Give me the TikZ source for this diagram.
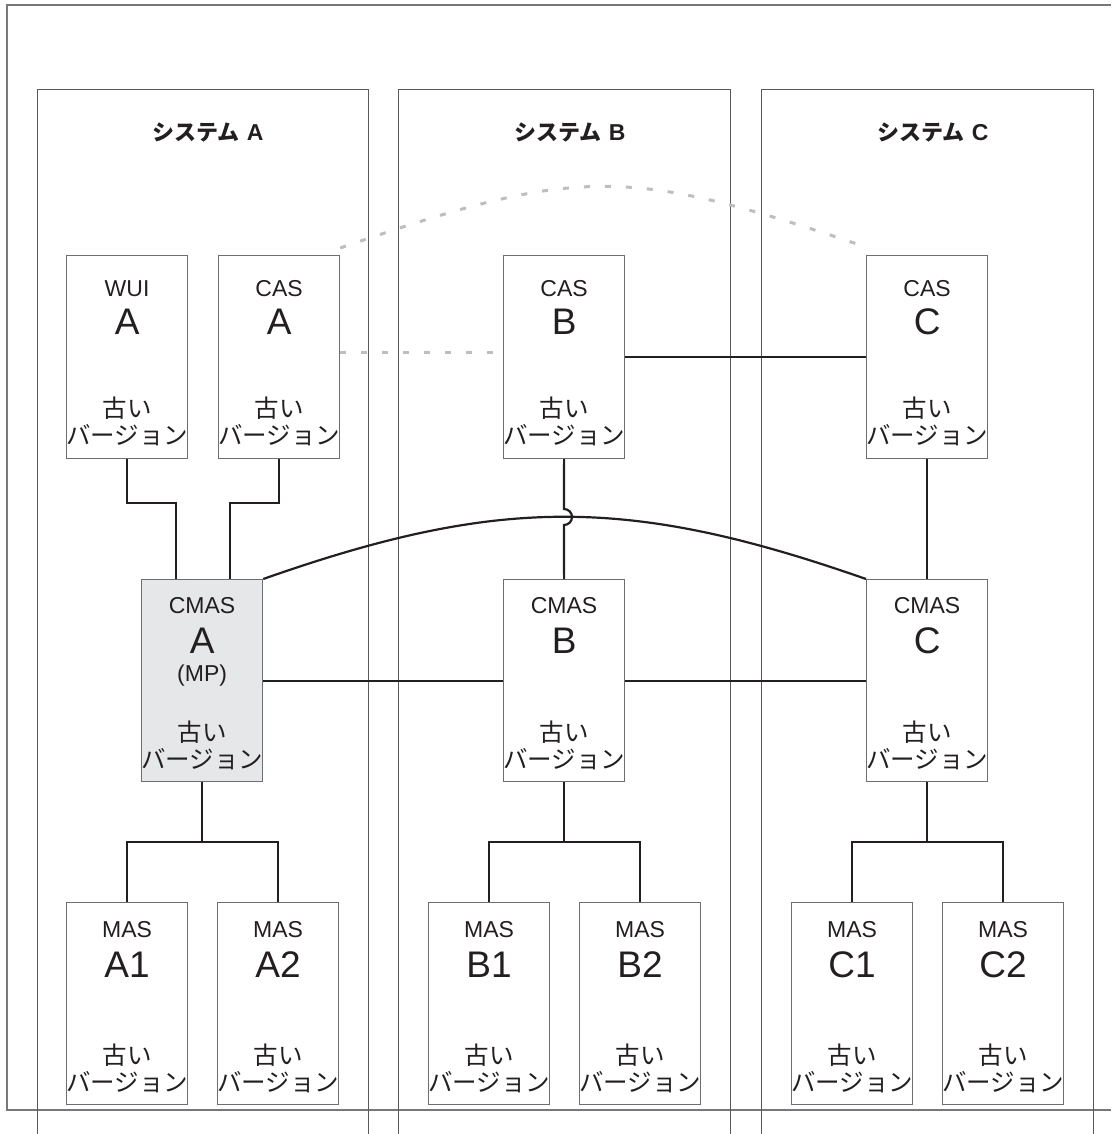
\documentclass[tikz,border=0pt]{standalone}
\usepackage{fontspec}
\setmainfont{Liberation Sans}
\newfontfamily\jp{Noto Sans CJK JP}
\usetikzlibrary{calc}
\definecolor{ink}{HTML}{231F20}
\definecolor{boxline}{HTML}{6D6E71}
\definecolor{sysline}{HTML}{58595B}
\definecolor{frameline}{HTML}{77787B}
\definecolor{dashgray}{HTML}{BCBEC0}
\definecolor{mpfill}{HTML}{E6E7E8}
\tikzset{
  compbox/.style={draw=boxline, line width=1.2pt, fill=white, minimum width=121pt, minimum height=203pt, inner sep=0pt, anchor=north west},
  masbox/.style={compbox, minimum height=202pt},
  smalltxt/.style={text=ink, inner sep=0pt, font=\fontsize{23}{23}\selectfont},
  bigtxt/.style={text=ink, inner sep=0pt, font=\fontsize{37}{37}\selectfont},
  jptxt/.style={text=ink, inner sep=0pt, font=\jp\fontsize{24.5}{24.5}\selectfont},
  titletxt/.style={text=ink, inner sep=0pt},
  conn/.style={draw=ink, line width=2.2pt},
  sysbox/.style={draw=sysline, line width=1pt},
  oldlink/.style={draw=dashgray, line width=3pt, dash pattern=on 6pt off 15pt}
}
% #1 name, #2 x, #3 y, #4 small, #5 big, #6 small dy, #7 big dy, #8 box style
\newcommand\comp[8]{%
  \node[#8] (#1) at (#2,#3) {};
  \node[smalltxt] (#1-s) at ($(#1.north)+(0,#6)$) {#4};
  \node[bigtxt] (#1-b) at ($(#1.north)+(0,#7)$) {#5};
  \node[jptxt] (#1-o) at ($(#1.north)+(0,153)$) {古い};
  \node[jptxt] (#1-v) at ($(#1.north)+(0,180)$) {バージョン};
}
\newcommand\systitle[3]{%
  \node[titletxt] (#1) at (#2,132) {{\jp\bfseries\fontsize{22}{22}\selectfont システム}\hspace{7pt}{\fontsize{23}{23}\selectfont\bfseries #3}};
}
\begin{document}
\begin{tikzpicture}[x=1pt,y=-1pt]
\useasboundingbox (0,0) rectangle (1111,1134);
% outer frame
\draw[draw=frameline, line width=1.4pt] (1111,5) -- (7,5) -- (7,1110) -- (1111,1110);
% system boxes
\draw[sysbox] (37,1134) -- (37,90) -- (368,90) -- (368,1134);
\draw[sysbox] (398,1134) -- (398,90) -- (730,90) -- (730,1134);
\draw[sysbox] (761,1134) -- (761,90) -- (1093,90) -- (1093,1134);
\systitle{titleA}{208}{A}
\systitle{titleB}{570}{B}
\systitle{titleC}{933}{C}
% components
\comp{wuiA}{66}{255}{WUI}{A}{34}{67}{compbox}
\comp{casA}{218}{255}{CAS}{A}{34}{67}{compbox}
\comp{casB}{503}{255}{CAS}{B}{34}{67}{compbox}
\comp{casC}{866}{255}{CAS}{C}{34}{67}{compbox}
\comp{cmasA}{141}{579}{CMAS}{A}{27}{62}{masbox, fill=mpfill}
\node[smalltxt] (cmasA-mp) at ($(cmasA.north)+(0,97)$) {(MP)};
\comp{cmasB}{503}{579}{CMAS}{B}{27}{62}{masbox}
\comp{cmasC}{866}{579}{CMAS}{C}{27}{62}{masbox}
\comp{masA1}{66}{902}{MAS}{A1}{28}{63}{masbox}
\comp{masA2}{217}{902}{MAS}{A2}{28}{63}{masbox}
\comp{masB1}{428}{902}{MAS}{B1}{28}{63}{masbox}
\comp{masB2}{579}{902}{MAS}{B2}{28}{63}{masbox}
\comp{masC1}{791}{902}{MAS}{C1}{28}{63}{masbox}
\comp{masC2}{942}{902}{MAS}{C2}{28}{63}{masbox}
% old (dashed) links
\draw[oldlink] ([yshift=5pt]casA.east) -- ([yshift=5pt]casB.west);
\draw[oldlink] ([yshift=7pt]casA.north east) .. controls (579,166) and (626,166) .. ([yshift=8pt]casC.north west);
% connectors
\draw[conn] (wuiA.south) -- ++(0,44) -| ([xshift=35pt]cmasA.north west);
\draw[conn] (casA.south) -- ++(0,44) -| ([xshift=89pt]cmasA.north west);
\draw[conn] (casB.east) -- (casC.west);
\draw[conn] (casC.south) -- (cmasC.north);
\draw[conn] (casB.south) -- (564,509) arc[start angle=-90, end angle=90, radius=8] -- (cmasB.north);
\draw[conn] (cmasA.north east) .. controls (499,496) and (629,496) .. (cmasC.north west);
\draw[conn] (cmasA.east) -- (cmasB.west);
\draw[conn] (cmasB.east) -- (cmasC.west);
\coordinate (bus) at (0,842);
\draw[conn] (cmasA.south) -- (cmasA.south |- bus);
\draw[conn] (masA1.north) |- (bus -| masA2.north) -- (masA2.north);
\draw[conn] (cmasB.south) -- (cmasB.south |- bus);
\draw[conn] (masB1.north) |- (bus -| masB2.north) -- (masB2.north);
\draw[conn] (cmasC.south) -- (cmasC.south |- bus);
\draw[conn] (masC1.north) |- (bus -| masC2.north) -- (masC2.north);
\end{tikzpicture}
\end{document}
